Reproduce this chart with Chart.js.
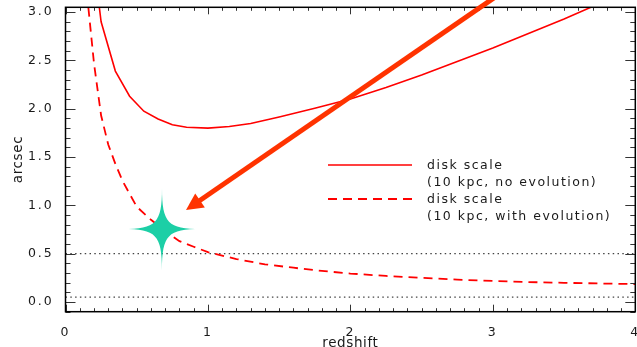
<!DOCTYPE html>
<html>
<head>
<meta charset="utf-8">
<script src="https://cdn.jsdelivr.net/npm/chart.js@4.4.1/dist/chart.umd.min.js"></script>
<style>
  html, body { margin: 0; padding: 0; background: #fff; overflow: hidden; }
  #wrap { width: 650px; height: 360px; }
</style>
</head>
<body>
<div id="wrap"><canvas id="sizeChart" width="650" height="360"></canvas></div>
<script>
// angular size of a 10 kpc disk vs redshift
const solidZ = [0.15, 0.25, 0.35, 0.45, 0.55, 0.65, 0.75, 0.85, 1.0, 1.15, 1.3, 1.5, 1.75, 2.0, 2.25, 2.5, 2.75, 3.0, 3.25, 3.5, 3.75, 4.0];
const solidArcsec = [4.1, 2.9, 2.39, 2.13, 1.975, 1.895, 1.835, 1.808, 1.8, 1.817, 1.848, 1.915, 2.005, 2.1, 2.22, 2.35, 2.49, 2.63, 2.78, 2.93, 3.09, 3.26];

const dashedZ = [0.15, 0.2, 0.25, 0.3, 0.35, 0.4, 0.5, 0.6, 0.7, 0.8, 0.9, 1.0, 1.2, 1.4, 1.6, 1.8, 2.0, 2.25, 2.5, 2.75, 3.0, 3.25, 3.5, 3.75, 4.0];
const dashedArcsec = [3.2, 2.47, 1.93, 1.63, 1.43, 1.255, 0.986, 0.851, 0.734, 0.63, 0.572, 0.516, 0.445, 0.39, 0.355, 0.322, 0.295, 0.27, 0.25, 0.232, 0.218, 0.207, 0.199, 0.192, 0.186];

const dottedLevels = [0.5, 0.05];
const legendLabels = ["disk scale\n(10 kpc, no evolution)", "disk scale\n(10 kpc, with evolution)"];

const xRange = [0, 4];
const yRange = [-0.1, 3.05];

// annotations, in data units
const starPoint = { x: 0.677, y: 0.756 };
const arrowTail = { x: 3.05, y: 3.19 };
const arrowHead = { x: 0.846, y: 0.952 };

const textColor = "#1a1a1a";
const red = "#ff0000";

function toPoints(xs, ys) {
  return xs.map((x, i) => ({ x: x, y: ys[i] }));
}

// 4 pointed star used as point style
function makeStar(w, h, color) {
  const c = document.createElement("canvas");
  c.width = w;
  c.height = h;
  const g = c.getContext("2d");
  const cx = w / 2, cy = h / 2, a = 6;
  g.fillStyle = color;
  g.beginPath();
  g.moveTo(cx, 0);
  g.bezierCurveTo(cx, cy - a, cx + a, cy, w, cy);
  g.bezierCurveTo(cx + a, cy, cx, cy + a, cx, h);
  g.bezierCurveTo(cx, cy + a, cx - a, cy, 0, cy);
  g.bezierCurveTo(cx - a, cy, cx, cy - a, cx, 0);
  g.fill();
  return c;
}

// wide letters like the IDL vector font; titles get less spacing
const spacing = {
  id: "spacing",
  beforeUpdate(chart) { chart.ctx.letterSpacing = "2px"; },
  beforeLayout(chart) { chart.ctx.letterSpacing = "2px"; },
  beforeDraw(chart) { chart.ctx.letterSpacing = "2px"; },
  afterUpdate(chart) {
    Object.values(chart.scales).forEach((s) => {
      if (s._titlePatched) return;
      const orig = s.drawTitle.bind(s);
      s.drawTitle = function () {
        s.ctx.save();
        s.ctx.letterSpacing = "0.6px";
        orig();
        s.ctx.restore();
      };
      s._titlePatched = true;
    });
  }
};

// IDL style box with inward ticks on all four sides
const frame = {
  id: "frame",
  afterDatasetsDraw(chart) {
    const { ctx, chartArea: a, scales: { x, y } } = chart;
    ctx.save();
    ctx.strokeStyle = "#333";
    ctx.lineWidth = 1;
    ctx.beginPath();
    for (let i = 0; i <= 40; i++) {
      const px = Math.round(x.getPixelForValue(i / 10)) + 0.5;
      const len = i % 10 === 0 ? 7 : 3.5;
      ctx.moveTo(px, a.bottom);
      ctx.lineTo(px, a.bottom - len);
      ctx.moveTo(px, a.top);
      ctx.lineTo(px, a.top + len);
    }
    for (let i = -1; i <= 30; i++) {
      const py = Math.round(y.getPixelForValue(i / 10)) + 0.5;
      const len = i % 5 === 0 ? 10 : 5;
      ctx.moveTo(a.left, py);
      ctx.lineTo(a.left + len, py);
      ctx.moveTo(a.right, py);
      ctx.lineTo(a.right - len, py);
    }
    ctx.stroke();
    ctx.strokeStyle = "#000";
    ctx.lineWidth = 1.5;
    ctx.strokeRect(a.left, a.top, a.right - a.left, a.bottom - a.top);
    ctx.restore();
  }
};

const arrow = {
  id: "arrow",
  afterDatasetsDraw(chart) {
    const { ctx, scales: { x, y } } = chart;
    const tx = x.getPixelForValue(arrowTail.x), ty = y.getPixelForValue(arrowTail.y);
    const hx = x.getPixelForValue(arrowHead.x), hy = y.getPixelForValue(arrowHead.y);
    const ang = Math.atan2(hy - ty, hx - tx);
    const headLen = 17, headHalf = 8.5;
    const bx = hx - headLen * Math.cos(ang), by = hy - headLen * Math.sin(ang);
    ctx.save();
    ctx.strokeStyle = "#ff3300";
    ctx.fillStyle = "#ff3300";
    ctx.lineWidth = 5;
    ctx.beginPath();
    ctx.moveTo(tx, ty);
    ctx.lineTo(bx + 2 * Math.cos(ang), by + 2 * Math.sin(ang));
    ctx.stroke();
    ctx.beginPath();
    ctx.moveTo(hx, hy);
    ctx.lineTo(bx + headHalf * Math.sin(ang), by - headHalf * Math.cos(ang));
    ctx.lineTo(bx - headHalf * Math.sin(ang), by + headHalf * Math.cos(ang));
    ctx.closePath();
    ctx.fill();
    ctx.restore();
  }
};

const sideLegend = {
  id: "sideLegend",
  afterDatasetsDraw(chart) {
    const ctx = chart.ctx;
    ctx.save();
    ctx.letterSpacing = "1.5px";
    ctx.font = '12.5px "DejaVu Sans"';
    ctx.textBaseline = "middle";
    ctx.fillStyle = textColor;
    let rowY = 165;
    chart.data.datasets.filter((d) => d.inLegend).forEach((d) => {
      ctx.strokeStyle = d.borderColor;
      ctx.lineWidth = d.borderWidth;
      ctx.setLineDash(d.borderDash || []);
      ctx.beginPath();
      ctx.moveTo(328, rowY);
      ctx.lineTo(412, rowY);
      ctx.stroke();
      d.label.split("\n").forEach((line, i) => ctx.fillText(line, 427, rowY + 1 + i * 17));
      rowY += 34;
    });
    ctx.restore();
  }
};

const ctx = document.getElementById("sizeChart").getContext("2d");
const chart = new Chart(ctx, {
  type: "scatter",
  data: {
    datasets: [
      {
        label: "star",
        data: [starPoint],
        pointStyle: makeStar(78, 82, "#1ccfa6"),
        pointRadius: 1,
        showLine: false,
        order: 0
      },
      {
        label: legendLabels[0],
        data: toPoints(solidZ, solidArcsec),
        showLine: true,
        borderColor: red,
        borderWidth: 1.6,
        pointRadius: 0,
        inLegend: true,
        order: 1
      },
      {
        label: legendLabels[1],
        data: toPoints(dashedZ, dashedArcsec),
        showLine: true,
        borderColor: red,
        borderWidth: 1.8,
        borderDash: [9, 6],
        pointRadius: 0,
        inLegend: true,
        order: 2
      },
      ...dottedLevels.map((lvl, i) => ({
        label: "level " + lvl,
        data: [{ x: xRange[0], y: lvl }, { x: xRange[1], y: lvl }],
        showLine: true,
        borderColor: "#444",
        borderWidth: 1.3,
        borderDash: [1.5, 3.3],
        pointRadius: 0,
        order: 3 + i
      }))
    ]
  },
  options: {
    responsive: false,
    animation: false,
    devicePixelRatio: 1,
    layout: { padding: { left: 0, top: 7.3, right: 14.7, bottom: 0 } },
    plugins: {
      legend: { display: false },
      tooltip: { enabled: false }
    },
    scales: {
      x: {
        type: "linear",
        min: xRange[0],
        max: xRange[1],
        grid: { display: false },
        border: { display: false },
        ticks: {
          stepSize: 1,
          padding: 5.8,
          color: textColor,
          font: { family: "DejaVu Sans", size: 12.5 },
          callback: (v) => v.toFixed(0)
        },
        title: {
          display: true,
          text: "redshift",
          color: textColor,
          font: { family: "DejaVu Sans", size: 13.5 },
          padding: { top: 0, bottom: 8 }
        },
        afterFit(s) {
          s.height = 48.3;
          s.paddingLeft = 0;
          s.paddingRight = 0;
        }
      },
      y: {
        type: "linear",
        min: yRange[0],
        max: yRange[1],
        grid: { display: false },
        border: { display: false },
        ticks: {
          stepSize: 0.5,
          includeBounds: false,
          padding: 3.7,
          color: textColor,
          font: { family: "DejaVu Sans", size: 12.5 },
          callback: (v) => v.toFixed(1)
        },
        title: {
          display: true,
          text: "arcsec",
          color: textColor,
          font: { family: "DejaVu Sans", size: 13.5 },
          padding: { top: 10.5, bottom: 0 }
        },
        afterFit(s) {
          s.width = 65.5;
          s.paddingTop = 0;
          s.paddingBottom = 0;
        }
      }
    }
  },
  plugins: [spacing, frame, arrow, sideLegend]
});
</script>
</body>
</html>
